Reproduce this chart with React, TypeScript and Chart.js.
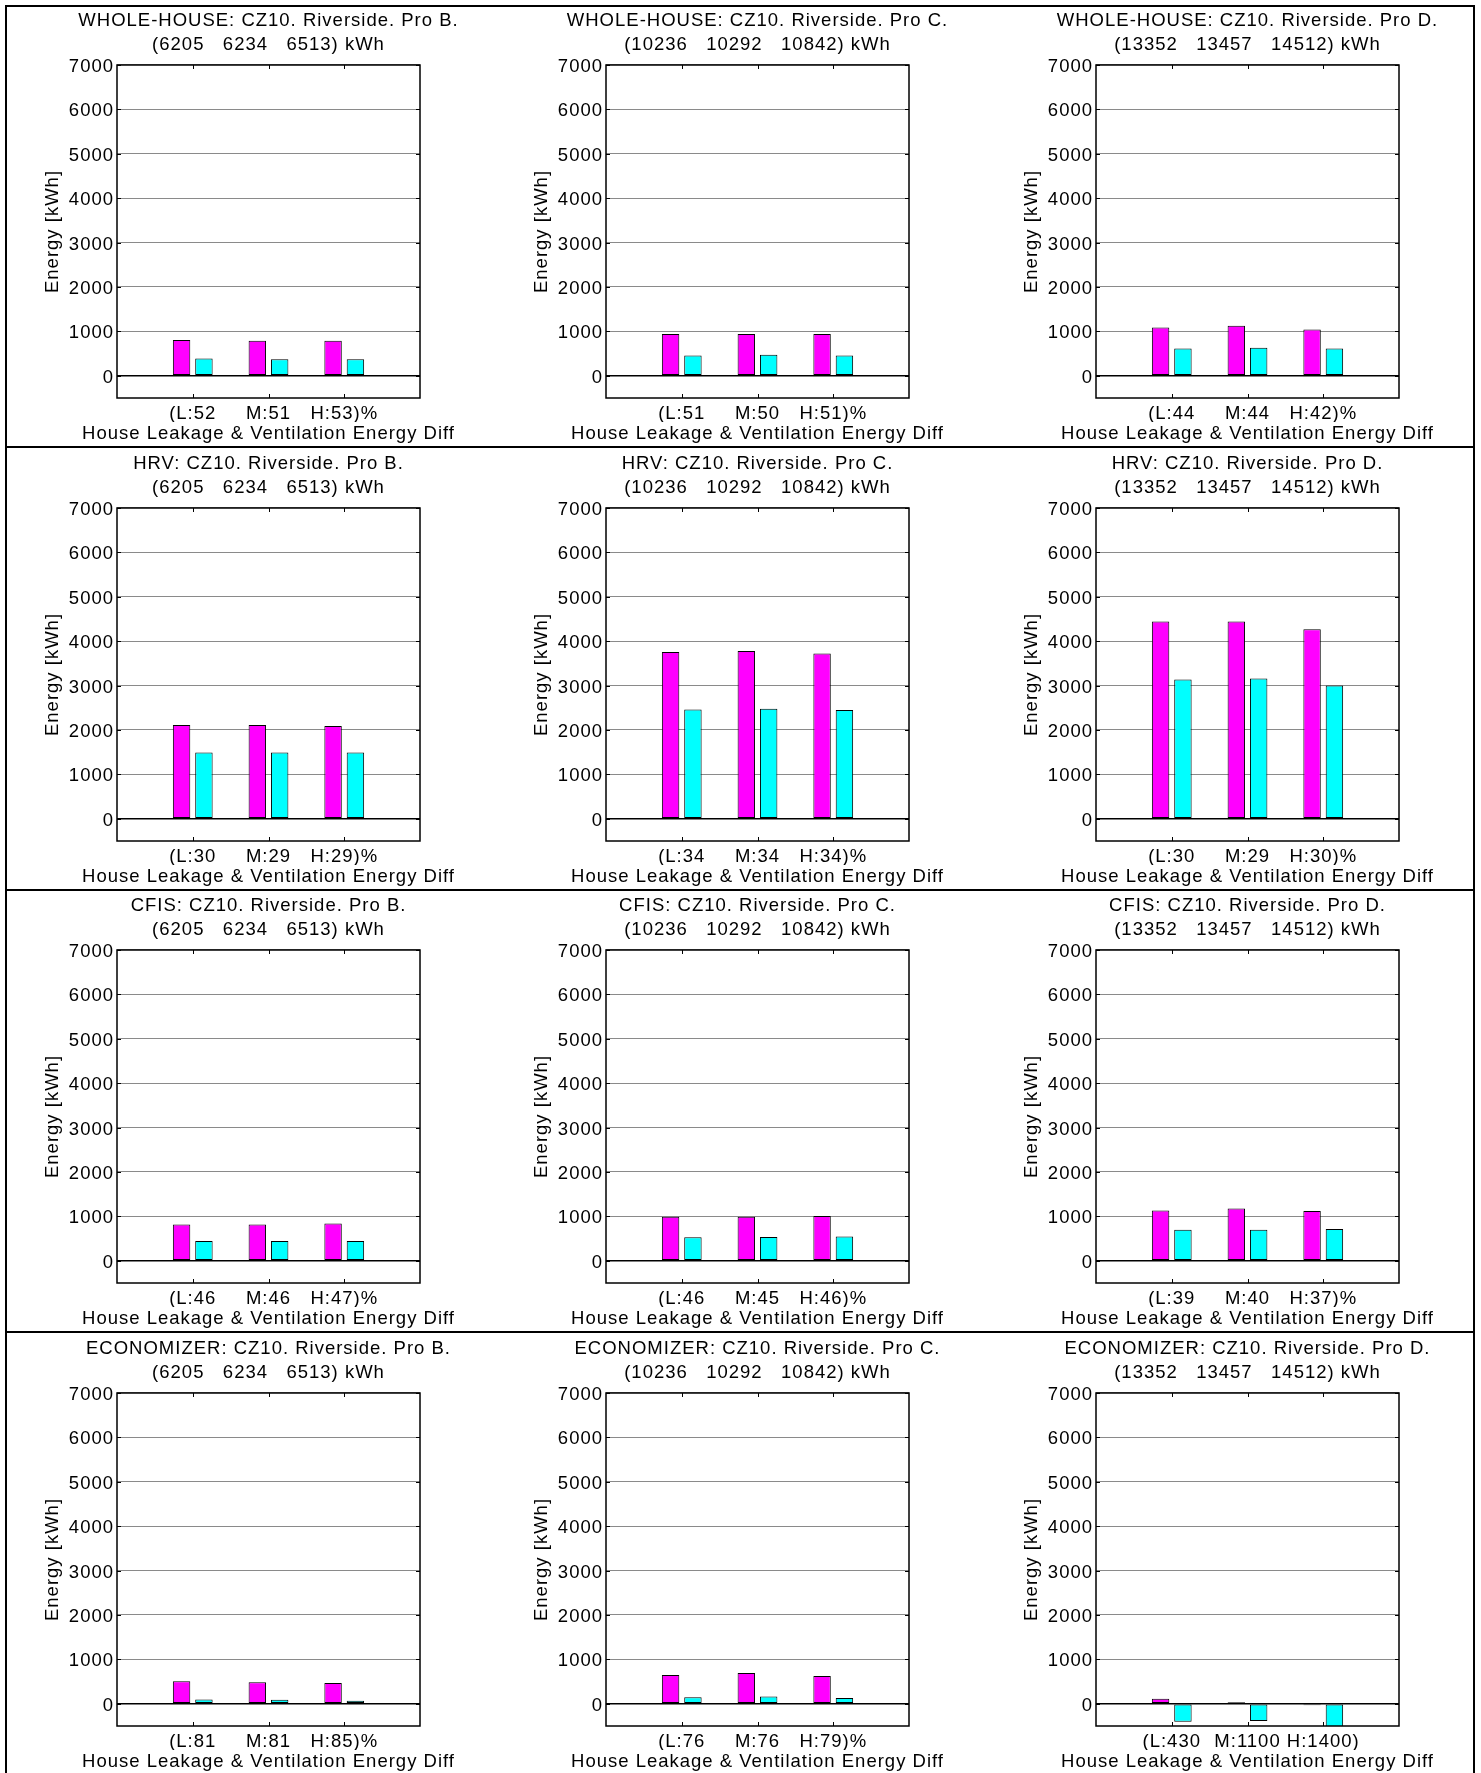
import { useEffect, useRef } from 'react';
import { Chart, registerables } from 'chart.js';

Chart.register(...registerables);

const FONT_FAMILY = '"Liberation Sans", Arial, Helvetica, sans-serif';

// Panel rows: ventilation strategy; panel columns: house prototype
const systemNames = ['WHOLE-HOUSE', 'HRV', 'CFIS', 'ECONOMIZER'];
const prototypeNames = ['Pro B.', 'Pro C.', 'Pro D.'];
const climateZone = 'CZ10. Riverside.';
const prototypeTotals = [
  [6205, 6234, 6513],
  [10236, 10292, 10842],
  [13352, 13457, 14512],
];

// Energy [kWh] for the L / M / H leakage cases, per prototype (B, C, D)
const wholeHouseMagenta = [[804, 788, 788], [939, 939, 939], [1089, 1126, 1044]];
const wholeHouseCyan = [[391, 375, 375], [458, 475, 458], [616, 631, 616]];
const hrvMagenta = [[2113, 2113, 2091], [3759, 3782, 3721], [4444, 4444, 4271]];
const hrvCyan = [[1496, 1496, 1496], [2463, 2478, 2448], [3135, 3158, 3000]];
const cfisMagenta = [[820, 820, 840], [992, 990, 1008], [1135, 1180, 1120]];
const cfisCyan = [[444, 444, 445], [530, 535, 549], [699, 699, 714]];
const economizerMagenta = [[508, 485, 470], [647, 692, 624], [114, 35, -35]];
const economizerCyan = [[98, 90, 70], [150, 165, 130], [-402, -386, -530]];

// Tick labels: percentage difference for each leakage case
const wholeHouseDiffLabels = [['(L:52', 'M:51', 'H:53)%'], ['(L:51', 'M:50', 'H:51)%'], ['(L:44', 'M:44', 'H:42)%']];
const hrvDiffLabels = [['(L:30', 'M:29', 'H:29)%'], ['(L:34', 'M:34', 'H:34)%'], ['(L:30', 'M:29', 'H:30)%']];
const cfisDiffLabels = [['(L:46', 'M:46', 'H:47)%'], ['(L:46', 'M:45', 'H:46)%'], ['(L:39', 'M:40', 'H:37)%']];
const economizerDiffLabels = [['(L:81', 'M:81', 'H:85)%'], ['(L:76', 'M:76', 'H:79)%'], ['(L:430', 'M:1100', 'H:1400)']];

// Energy axis: range and tick values
const energyMin = -500;
const energyMax = 7000;
const energyTicks = [0, 1000, 2000, 3000, 4000, 5000, 6000, 7000];

const magentaBySystem = [wholeHouseMagenta, hrvMagenta, cfisMagenta, economizerMagenta];
const cyanBySystem = [wholeHouseCyan, hrvCyan, cfisCyan, economizerCyan];
const labelsBySystem = [wholeHouseDiffLabels, hrvDiffLabels, cfisDiffLabels, economizerDiffLabels];

// Grid of panels
const PAGE_W = 1481;
const PAGE_H = 1773;
const CANVAS_W = 537; // symmetric around the plot centre so the titles centre on the axes
const CANVAS_H = 442;
const AXIS_SIDE = 117;
const COL_PITCH = 489.5;
const ROW_PITCH = 442.7;
const ROW_ORIGIN = 5;

const textFont = { family: FONT_FAMILY, size: 18.5, weight: 'normal' as const, lineHeight: 1.2 };

const axesFrame = {
  id: 'axesFrame',
  beforeUpdate(chart: any) {
    chart.ctx.letterSpacing = '1px';
  },
  beforeDraw(chart: any) {
    chart.ctx.letterSpacing = '1px';
  },
  afterDraw(chart: any) {
    const { ctx, chartArea, scales } = chart;
    const { left, right, top, bottom } = chartArea;
    const x = scales.x;
    const y = scales.y;
    const nCats = chart.data.datasets[0].data.length;
    ctx.save();
    ctx.strokeStyle = '#000';
    ctx.lineWidth = 1;
    ctx.beginPath();
    for (const t of y.ticks) {
      const py = Math.round(y.getPixelForValue(t.value)) + 0.5;
      ctx.moveTo(left, py);
      ctx.lineTo(left + 4, py);
      ctx.moveTo(right, py);
      ctx.lineTo(right - 4, py);
    }
    for (let i = 1; i <= nCats; i++) {
      const px = Math.round(x.getPixelForValue(i)) + 0.5;
      ctx.moveTo(px, top);
      ctx.lineTo(px, top + 4);
      ctx.moveTo(px, bottom);
      ctx.lineTo(px, bottom - 4);
    }
    ctx.stroke();
    ctx.lineWidth = 1.5;
    ctx.strokeRect(left, top, right - left, bottom - top);
    ctx.restore();
  },
};

function Panel({ row, col }: { row: number; col: number }) {
  const ref = useRef<HTMLCanvasElement | null>(null);

  useEffect(() => {
    const canvas = ref.current;
    if (!canvas) return;
    const magenta = magentaBySystem[row][col];
    const cyan = cyanBySystem[row][col];
    const labels = labelsBySystem[row][col];
    const totals = prototypeTotals[col];
    const titleLines = [
      `${systemNames[row]}: ${climateZone} ${prototypeNames[col]}`,
      `(${totals[0]}   ${totals[1]}   ${totals[2]}) kWh`,
    ];
    const barStyle = {
      borderColor: '#000',
      borderWidth: 1,
      borderSkipped: false,
      barPercentage: 0.78,
      categoryPercentage: 0.59,
    };

    const chart = new Chart(canvas, {
      type: 'bar',
      data: {
        datasets: [
          {
            label: 'magenta',
            data: magenta.map((v, i) => ({ x: i + 1, y: v })),
            backgroundColor: '#ff00ff',
            ...barStyle,
          },
          {
            label: 'cyan',
            data: cyan.map((v, i) => ({ x: i + 1, y: v })),
            backgroundColor: '#00ffff',
            ...barStyle,
          },
        ],
      } as any,
      options: {
        responsive: false,
        maintainAspectRatio: false,
        animation: false,
        devicePixelRatio: 1,
        layout: { padding: 0 },
        plugins: {
          legend: { display: false },
          tooltip: { enabled: false },
          title: {
            display: true,
            fullSize: true,
            text: titleLines,
            color: '#000',
            font: { ...textFont, lineHeight: 1.281 },
            padding: { top: 4.5, bottom: 8.1 },
          },
          subtitle: {
            display: true,
            position: 'bottom',
            fullSize: true,
            text: 'House Leakage & Ventilation Energy Diff',
            color: '#000',
            font: textFont,
            padding: { top: 0.6, bottom: 2.2 },
          },
        },
        scales: {
          x: {
            type: 'linear',
            min: 0,
            max: labels.length + 1,
            offset: false,
            grid: { display: false, drawTicks: false, offset: false },
            border: { display: false },
            ticks: {
              stepSize: 1,
              autoSkip: false,
              maxRotation: 0,
              minRotation: 0,
              padding: 4.8,
              color: '#000',
              font: textFont,
              callback: (v: any) => labels[Number(v) - 1] ?? '',
            },
            afterFit: (s: any) => {
              s.height = 24;
            },
          },
          y: {
            type: 'linear',
            min: energyMin,
            max: energyMax,
            grid: {
              drawTicks: false,
              color: (c: any) => (c.tick && c.tick.value === 0 ? '#000' : '#8a8a8a'),
              lineWidth: (c: any) => (c.tick && c.tick.value === 0 ? 1.5 : 1),
            },
            border: { display: false },
            afterBuildTicks: (s: any) => {
              s.ticks = energyTicks.map((value) => ({ value }));
            },
            ticks: {
              padding: 3,
              labelOffset: 2,
              color: '#000',
              font: textFont,
              callback: (v: any) => String(v),
            },
            title: {
              display: true,
              text: 'Energy [kWh]',
              color: '#000',
              font: textFont,
              padding: { top: 41.4, bottom: 0 },
            },
            afterFit: (s: any) => {
              s.width = AXIS_SIDE;
            },
          },
          // empty right-hand axis keeps the plot centred in the canvas
          yMirror: {
            type: 'linear',
            position: 'right',
            display: true,
            grid: { display: false, drawOnChartArea: false, drawTicks: false },
            border: { display: false },
            ticks: { display: false },
            afterFit: (s: any) => {
              s.width = CANVAS_W - AXIS_SIDE - 303;
            },
          },
        },
      } as any,
      plugins: [axesFrame],
    });
    return () => chart.destroy();
  }, [row, col]);

  return (
    <canvas
      ref={ref}
      width={CANVAS_W}
      height={CANVAS_H}
      style={{
        position: 'absolute',
        left: Math.floor(col * COL_PITCH),
        top: Math.round(ROW_ORIGIN + row * ROW_PITCH),
        width: CANVAS_W,
        height: CANVAS_H,
      }}
    />
  );
}

const line = (left: number, top: number, width: number, height: number) => (
  <div
    key={`${left}-${top}-${width}-${height}`}
    style={{ position: 'absolute', left, top, width, height, background: '#000' }}
  />
);

export default function App() {
  const panels = [];
  for (let r = 0; r < systemNames.length; r++) {
    for (let c = 0; c < prototypeNames.length; c++) {
      panels.push(<Panel key={`${r}-${c}`} row={r} col={c} />);
    }
  }
  const separators = [];
  for (let r = 1; r < systemNames.length; r++) {
    separators.push(line(5, Math.round(446 + (r - 1) * ROW_PITCH), 1470, 2));
  }
  return (
    <div
      style={{
        position: 'absolute',
        left: 0,
        top: 0,
        width: PAGE_W,
        height: PAGE_H,
        overflow: 'hidden',
        background: '#fff',
      }}
    >
      {panels}
      {line(5, 5, 1470, 2)}
      {line(5, 5, 2, PAGE_H)}
      {line(1473, 5, 2, PAGE_H)}
      {separators}
    </div>
  );
}
